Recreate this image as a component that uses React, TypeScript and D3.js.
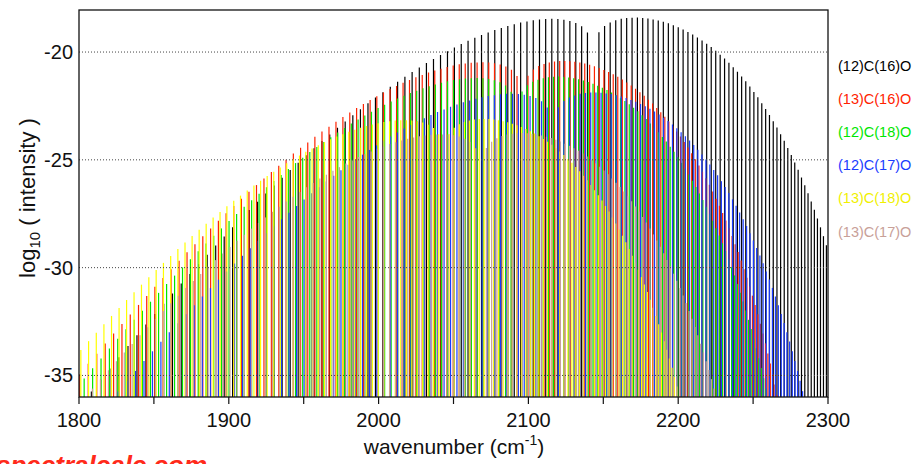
import * as d3 from 'd3';

const WIDTH = 916;
const HEIGHT = 464;
const PLOT = { left: 79, right: 828, top: 10, bottom: 397 };
const FONT = 'Liberation Sans, Arial, Helvetica, sans-serif';

const names = ['(12)C(16)O', '(13)C(16)O', '(12)C(18)O', '(12)C(17)O', '(13)C(18)O', '(13)C(17)O'];
const colors = ['#000000', '#ff2200', '#00e600', '#1a3cff', '#ffff00', '#c8a098'];

// band origin and rotational constants (cm-1): nu = nu0 + bSum*m + bDiff*m^2
const bandOrigin = [2143.27, 2096.07, 2092.11, 2116.3, 2043.6, 2068.4];
const bSum = [3.8275, 3.659, 3.6453, 3.731, 3.4767, 3.5625];
const bDiff = [-0.0175, -0.0164, -0.0163, -0.0168, -0.0152, -0.0157];

// log10 line intensity; P branch starts at J=1, R branch at J=0
const p12C16O = [
  -19.09, -18.80, -18.65, -18.56, -18.50, -18.47, -18.46, -18.47, -18.49, -18.53,
  -18.58, -18.63, -18.71, -18.79, -18.88, -18.98, -19.09, -19.21, -19.34, -19.48,
  -19.63, -19.79, -19.96, -20.14, -20.32, -20.51, -20.72, -20.93, -21.15, -21.38,
  -21.61, -21.86, -22.11, -22.38, -22.65, -22.93, -23.22, -23.51, -23.82, -24.13,
  -24.46, -24.79, -25.13, -25.47, -25.83, -26.19, -26.56, -26.94, -27.33, -27.73,
  -28.13, -28.55, -28.97, -29.40, -29.84, -30.29, -30.74, -31.20, -31.67, -32.15,
  -32.64, -33.14, -33.64, -34.16, -34.68, -35.20, -35.74,
];
const r12C16O = [
  -19.08, -18.79, -18.63, -18.53, -18.46, -18.42, -18.41, -18.40, -18.42, -18.45,
  -18.49, -18.54, -18.60, -18.67, -18.76, -18.85, -18.95, -19.07, -19.19, -19.32,
  -19.46, -19.61, -19.77, -19.94, -20.12, -20.30, -20.50, -20.70, -20.91, -21.13,
  -21.36, -21.60, -21.85, -22.10, -22.37, -22.64, -22.92, -23.21, -23.50, -23.81,
  -24.12, -24.45, -24.78, -25.12, -25.46, -25.82, -26.18, -26.55, -26.93, -27.32,
  -27.72, -28.13, -28.54, -28.96, -29.40,
];
const p13C16O = [
  -21.11, -20.82, -20.67, -20.58, -20.52, -20.49, -20.47, -20.48, -20.50, -20.53,
  -20.57, -20.63, -20.69, -20.77, -20.86, -20.95, -21.06, -21.17, -21.30, -21.43,
  -21.57, -21.72, -21.88, -22.05, -22.22, -22.41, -22.60, -22.80, -23.01, -23.23,
  -23.46, -23.69, -23.93, -24.19, -24.44, -24.71, -24.99, -25.27, -25.56, -25.86,
  -26.17, -26.48, -26.81, -27.14, -27.48, -27.82, -28.18, -28.54, -28.91, -29.29,
  -29.68, -30.07, -30.48, -30.89, -31.31, -31.73, -32.17, -32.61, -33.06, -33.52,
  -33.99, -34.46, -34.94,
];
const r13C16O = [
  -21.10, -20.81, -20.65, -20.55, -20.48, -20.44, -20.42, -20.41, -20.43, -20.45,
  -20.49, -20.53, -20.59, -20.66, -20.74, -20.83, -20.93, -21.03, -21.15, -21.27,
  -21.41, -21.55, -21.70, -21.86, -22.03, -22.21, -22.39, -22.59, -22.79, -23.00,
  -23.22, -23.44, -23.68, -23.92, -24.17, -24.43, -24.70, -24.97, -25.26, -25.55,
  -25.85, -26.16, -26.47, -26.80, -27.13, -27.47, -27.81, -28.17, -28.53, -28.91,
  -29.28, -29.67, -30.07, -30.47, -30.88, -31.30, -31.73, -32.16, -32.60, -33.05,
  -33.51, -33.98, -34.45, -34.93, -35.42, -35.92,
];
const p12C18O = [
  -21.84, -21.55, -21.40, -21.31, -21.25, -21.22, -21.20, -21.21, -21.23, -21.26,
  -21.30, -21.36, -21.42, -21.50, -21.59, -21.68, -21.79, -21.90, -22.03, -22.16,
  -22.29, -22.44, -22.60, -22.77, -22.94, -23.13, -23.32, -23.52, -23.73, -23.95,
  -24.17, -24.40, -24.64, -24.90, -25.15, -25.42, -25.70, -25.98, -26.27, -26.57,
  -26.87, -27.18, -27.51, -27.84, -28.18, -28.52, -28.88, -29.24, -29.61, -29.99,
  -30.37, -30.76, -31.17, -31.58, -32.00, -32.42, -32.86, -33.30, -33.75, -34.21,
  -34.67, -35.14,
];
const r12C18O = [
  -21.83, -21.54, -21.38, -21.28, -21.21, -21.17, -21.15, -21.14, -21.16, -21.18,
  -21.22, -21.26, -21.32, -21.39, -21.47, -21.56, -21.66, -21.76, -21.88, -22.00,
  -22.14, -22.27, -22.42, -22.58, -22.75, -22.93, -23.11, -23.31, -23.51, -23.72,
  -23.94, -24.15, -24.39, -24.63, -24.88, -25.14, -25.41, -25.68, -25.97, -26.26,
  -26.56, -26.86, -27.17, -27.50, -27.83, -28.17, -28.51, -28.87, -29.23, -29.61,
  -29.98, -30.36, -30.76, -31.16, -31.57, -31.99, -32.42, -32.85, -33.29, -33.74,
  -34.20, -34.66, -35.13, -35.60,
];
const p12C17O = [
  -22.57, -22.28, -22.13, -22.04, -21.98, -21.95, -21.94, -21.94, -21.96, -22.00,
  -22.04, -22.10, -22.17, -22.25, -22.33, -22.43, -22.54, -22.66, -22.78, -22.92,
  -23.07, -23.22, -23.38, -23.55, -23.73, -23.92, -24.12, -24.33, -24.54, -24.76,
  -24.99, -25.23, -25.48, -25.74, -26.00, -26.27, -26.55, -26.84, -27.14, -27.45,
  -27.76, -28.08, -28.41, -28.75, -29.10, -29.45, -29.81, -30.18, -30.56, -30.95,
  -31.34, -31.75, -32.16, -32.58, -33.00, -33.44, -33.88, -34.33, -34.79, -35.26,
  -35.74,
];
const r12C17O = [
  -22.56, -22.27, -22.11, -22.01, -21.94, -21.90, -21.88, -21.88, -21.89, -21.92,
  -21.95, -22.00, -22.06, -22.13, -22.22, -22.31, -22.41, -22.52, -22.63, -22.76,
  -22.90, -23.05, -23.20, -23.36, -23.54, -23.72, -23.91, -24.10, -24.31, -24.53,
  -24.75, -24.98, -25.22, -25.47, -25.72, -25.99, -26.26, -26.54, -26.83, -27.13,
  -27.44, -27.75, -28.07, -28.40, -28.74, -29.09, -29.44, -29.80, -30.18, -30.55,
  -30.94, -31.34, -31.74, -32.15, -32.57, -33.00, -33.43, -33.88, -34.33, -34.79,
  -35.25, -35.73,
];
const p13C18O = [
  -23.81, -23.52, -23.37, -23.27, -23.21, -23.18, -23.16, -23.16, -23.18, -23.21,
  -23.25, -23.30, -23.36, -23.43, -23.51, -23.60, -23.70, -23.81, -23.92, -24.05,
  -24.18, -24.32, -24.47, -24.63, -24.80, -24.97, -25.16, -25.35, -25.55, -25.75,
  -25.97, -26.19, -26.42, -26.66, -26.90, -27.15, -27.42, -27.68, -27.96, -28.24,
  -28.53, -28.83, -29.14, -29.46, -29.78, -30.11, -30.44, -30.79, -31.14, -31.50,
  -31.87, -32.24, -32.63, -33.02, -33.41, -33.82,
];
const r13C18O = [
  -23.80, -23.51, -23.35, -23.24, -23.18, -23.13, -23.11, -23.10, -23.11, -23.13,
  -23.16, -23.21, -23.26, -23.33, -23.40, -23.48, -23.57, -23.67, -23.78, -23.90,
  -24.03, -24.16, -24.30, -24.46, -24.61, -24.78, -24.96, -25.14, -25.33, -25.53,
  -25.74, -25.95, -26.17, -26.41, -26.64, -26.89, -27.14, -27.40, -27.67, -27.95,
  -28.23, -28.52, -28.82, -29.13, -29.45, -29.77, -30.10, -30.44, -30.78, -31.13,
  -31.49, -31.86, -32.24, -32.62, -33.01, -33.41, -33.81, -34.22, -34.64, -35.07,
  -35.51, -35.95,
];
const p13C17O = [
  -24.46, -24.17, -24.02, -23.92, -23.86, -23.83, -23.82, -23.82, -23.84, -23.87,
  -23.91, -23.96, -24.02, -24.10, -24.18, -24.27, -24.38, -24.49, -24.61, -24.74,
  -24.87, -25.02, -25.17, -25.34, -25.51, -25.69, -25.87, -26.07, -26.27, -26.49,
  -26.71, -26.93, -27.17, -27.41, -27.67, -27.93, -28.19, -28.47, -28.75, -29.04,
  -29.34, -29.65, -29.96, -30.29, -30.62, -30.95, -31.30, -31.65, -32.01, -32.38,
  -32.76, -33.14, -33.54, -33.94, -34.34, -34.76, -35.18, -35.61,
];
const r13C17O = [
  -24.45, -24.16, -24.00, -23.89, -23.83, -23.79, -23.76, -23.76, -23.77, -23.79,
  -23.82, -23.87, -23.93, -23.99, -24.07, -24.15, -24.25, -24.35, -24.46, -24.58,
  -24.71, -24.85, -25.00, -25.16, -25.32, -25.49, -25.67, -25.86, -26.06, -26.26,
  -26.47, -26.69, -26.92, -27.16, -27.40, -27.65, -27.91, -28.18, -28.46, -28.74,
  -29.03, -29.33, -29.64, -29.95, -30.28, -30.61, -30.94, -31.29, -31.64, -32.01,
  -32.37, -32.75, -33.14, -33.53, -33.93, -34.34, -34.75, -35.17, -35.60,
];

const pBranch = [p12C16O, p13C16O, p12C18O, p12C17O, p13C18O, p13C17O];
const rBranch = [r12C16O, r13C16O, r12C18O, r12C17O, r13C18O, r13C17O];

const yTicks = [-20, -25, -30, -35];
const xTicks = [1800, 1850, 1900, 1950, 2000, 2050, 2100, 2150, 2200, 2250, 2300];
const xLabels = [1800, 1900, 2000, 2100, 2200, 2300];

type Line = { nu: number; s: number };

const lineList = (i: number): Line[] => {
  const pos = (m: number) => bandOrigin[i] + bSum[i] * m + bDiff[i] * m * m;
  const p = pBranch[i].map((s, j) => ({ nu: pos(-(j + 1)), s }));
  const r = rBranch[i].map((s, j) => ({ nu: pos(j + 1), s }));
  return [...p, ...r];
};

export default function App() {
  const x = d3.scaleLinear().domain([1800, 2300]).range([PLOT.left, PLOT.right]);
  const y = d3.scaleLinear().domain([-36, -18.05]).range([PLOT.bottom, PLOT.top]);

  const spectra = names.map((name, i) => (
    <g key={name}>
      {lineList(i).map((d, k) => (
        <line
          key={k}
          x1={x(d.nu)}
          x2={x(d.nu)}
          y1={y(-36)}
          y2={y(d.s)}
          stroke={colors[i]}
          strokeWidth={1.2}
        />
      ))}
    </g>
  ));

  return (
    <svg
      width={WIDTH}
      height={HEIGHT}
      style={{ position: 'absolute', left: 0, top: 0, background: '#fff' }}
      fontFamily={FONT}
    >
      <defs>
        <clipPath id="plot">
          <rect x={PLOT.left} y={PLOT.top} width={PLOT.right - PLOT.left} height={PLOT.bottom - PLOT.top} />
        </clipPath>
      </defs>

      <g clipPath="url(#plot)">{spectra}</g>

      {/* dotted grid drawn over the lines */}
      {yTicks.map((v) => (
        <g key={v}>
          <line
            x1={PLOT.left}
            x2={PLOT.right}
            y1={y(v)}
            y2={y(v)}
            stroke="#444"
            strokeWidth={1}
            strokeDasharray="1 2"
          />
          <text x={73} y={y(v) + 7} textAnchor="end" fontSize={20} fill="#111">
            {v}
          </text>
        </g>
      ))}

      <rect
        x={PLOT.left}
        y={PLOT.top}
        width={PLOT.right - PLOT.left}
        height={PLOT.bottom - PLOT.top}
        fill="none"
        stroke="#111"
        strokeWidth={1.3}
      />

      {xTicks.map((v) => (
        <line key={v} x1={x(v)} x2={x(v)} y1={PLOT.bottom} y2={PLOT.bottom + 7} stroke="#111" strokeWidth={1.2} />
      ))}
      {xLabels.map((v) => (
        <text key={v} x={x(v)} y={427} textAnchor="middle" fontSize={20} fill="#111">
          {v}
        </text>
      ))}

      <text x={454} y={454} textAnchor="middle" fontSize={21} fill="#111">
        wavenumber (cm<tspan fontSize={14} dy={-9}>-1</tspan>
        <tspan dy={9}>)</tspan>
      </text>

      <text transform="translate(35,198) rotate(-90)" textAnchor="middle" fontSize={22} fill="#111">
        log<tspan fontSize={15} dy={5}>10</tspan>
        <tspan dy={-5}> ( intensity )</tspan>
      </text>

      {names.map((name, i) => (
        <text key={name} x={838} y={70.5 + i * 33.2} fontSize={14.5} fill={colors[i] === '#ffff00' ? '#f0f000' : colors[i]}>
          {name}
        </text>
      ))}

      <text x={-4} y={474} fontSize={26} fontStyle="italic" fontWeight="bold" fill="#ff2a1a">
        spectralcalc.com
      </text>
    </svg>
  );
}
